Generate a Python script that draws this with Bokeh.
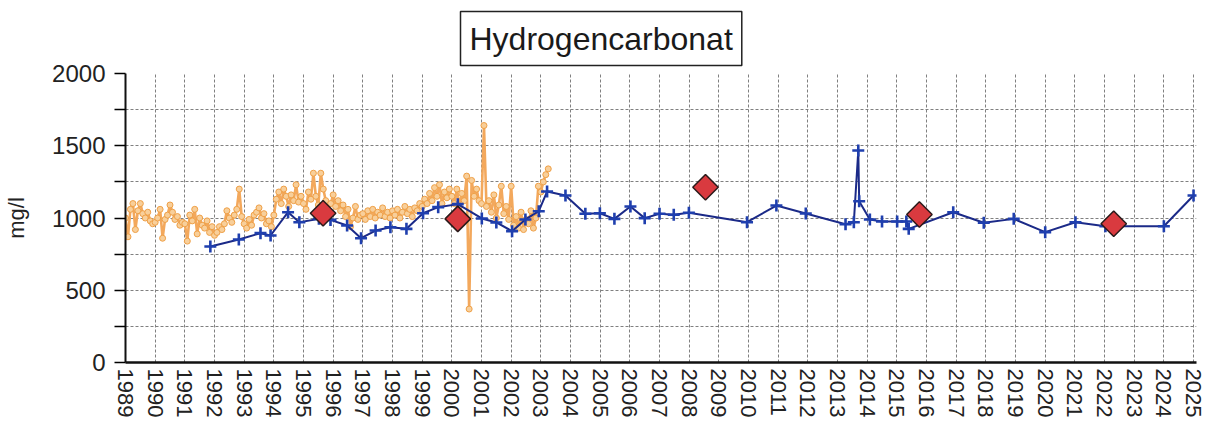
import numpy as np
from bokeh.plotting import figure
from bokeh.models import Range1d, FixedTicker, Title, ColumnDataSource
from bokeh.embed import file_html
from bokeh.resources import INLINE

# ---------------- data ----------------
years = list(range(1989, 2026))

# orange series: monthly values from Jan 1989 to Apr 2003 (estimated)
orange_start = 1989.0
orange_vals = [
    # 1989
    1000, 870, 1060, 1100, 920, 1050, 1100, 1030, 1000, 1040, 980, 960,
    # 1990
    970, 1000, 1060, 860, 990, 1020, 1090, 1040, 990, 1010, 950, 970,
    # 1991
    960, 840, 1020, 980, 1060, 890, 1000, 950, 930, 980, 900, 940,
    # 1992
    880, 900, 940, 920, 960, 1050, 1000, 970, 1020, 1060, 1200, 1010,
    # 1993
    960, 930, 990, 950, 1020, 1040, 1070, 1000, 1030, 960, 980, 940,
    # 1994
    1020, 1130, 1180, 1100, 1200, 1150, 1080, 1160, 1120, 1230, 1110, 1150,
    # 1995
    1100, 1060, 1180, 1130, 1310, 1150, 1090, 1310, 1200, 1120, 1050, 1100,
    # 1996
    1160, 1080, 1120, 1050, 1090, 1010, 1060, 940, 1000, 1080, 990, 1020,
    # 1997
    1030, 990, 1050, 1010, 1060, 1000, 1040, 1020, 1070, 1010, 1040, 1000,
    # 1998
    1050, 1020, 1060, 1000, 1040, 1080, 1030, 1060, 1010, 1070, 1050, 1100,
    # 1999
    1080, 1130, 1100, 1170, 1120, 1210, 1150, 1230, 1100, 1180, 1140, 1200,
    # 2000
    1150, 1100, 1200, 1080, 1170, 1120, 1290, 370, 1260, 1150, 1200, 1120,
    # 2001
    1100, 1640, 1080, 1120, 1040, 1160, 1000, 1090, 1220, 1030, 1080, 990,
    # 2002
    1220, 950, 1010, 930, 1040, 920, 990, 960, 1050, 930, 1000, 1220,
    # 2003
    1180, 1250, 1300, 1340,
]
orange_x = [orange_start + i / 12.0 for i in range(len(orange_vals))]

blue_x = [1991.86, 1992.82, 1993.55, 1993.89, 1994.48, 1994.86, 1995.52, 1995.91,
          1996.47, 1996.94, 1997.43, 1997.93, 1998.47, 1999.03, 1999.54, 2000.20,
          2001.01, 2001.50, 2002.03, 2002.48, 2002.93, 2003.21, 2003.83, 2004.50,
          2004.99, 2005.48, 2006.02, 2006.50, 2007.00, 2007.48, 2007.99, 2009.95,
          2010.94, 2011.93, 2013.27, 2013.55, 2013.70, 2013.73, 2014.09, 2014.50,
          2015.01, 2015.32, 2015.40, 2016.90, 2017.93, 2018.94, 2020.00, 2021.02,
          2022.03, 2024.00, 2025.00]
blue_y = [803, 851, 895, 879, 1040, 971, 994, 987,
          948, 860, 913, 936, 925, 1033, 1075, 1096,
          997, 969, 909, 990, 1047, 1183, 1156, 1029,
          1033, 994, 1080, 999, 1029, 1022, 1036, 971,
          1086, 1031, 957, 971, 1467, 1116, 990, 976,
          976, 976, 925, 1040, 967, 994, 902, 971,
          943, 943, 1156]

red_x = [1995.66, 2000.20, 2008.55, 2015.76, 2022.31]
red_y = [1033, 994, 1213, 1024, 960]

y_major = [0, 500, 1000, 1500, 2000]
y_minor = [250, 750, 1250, 1750]
title_text = "Hydrogencarbonat"
y_label = "mg/l"

# ---------------- figure ----------------
FONT = "Liberation Sans"
p = figure(width=1208, height=428, output_backend="svg", toolbar_location=None,
           x_range=Range1d(1989, 2025.1), y_range=Range1d(0, 2000),
           min_border_left=125, min_border_right=12, min_border_top=73,
           min_border_bottom=66)
p.outline_line_color = None
p.background_fill_color = "white"
p.border_fill_color = "white"

# title box
ttl = Title(text=title_text, align="left", offset=335, standoff=16,
            text_font=FONT, text_font_size="32px", text_color="#1a1a1a",
            text_font_style="normal",
            border_line_color="#222222", border_line_width=1.5,
            background_fill_color="white", padding=9)
p.add_layout(ttl, "above")

# axes
p.xaxis.ticker = FixedTicker(ticks=years)
p.xaxis.major_label_orientation = "vertical"
p.xaxis.major_tick_out = 0
p.xaxis.major_tick_in = 0
p.xaxis.minor_tick_out = 0
p.xaxis.axis_line_width = 2.5
p.xaxis.axis_line_color = "#111111"
p.xaxis.major_label_standoff = 6
p.xaxis.major_label_text_font = FONT
p.xaxis.major_label_text_font_size = "22px"
p.xaxis.major_label_text_color = "#222222"

p.yaxis.ticker = FixedTicker(ticks=y_major, minor_ticks=y_minor)
p.yaxis.major_tick_out = 11
p.yaxis.major_tick_in = 0
p.yaxis.minor_tick_out = 11
p.yaxis.minor_tick_in = 0
p.yaxis.major_tick_line_width = 1.5
p.yaxis.minor_tick_line_width = 1.5
p.yaxis.axis_line_width = 2
p.yaxis.axis_line_color = "#111111"
p.yaxis.major_label_standoff = 9
p.yaxis.major_label_text_font = FONT
p.yaxis.major_label_text_font_size = "24px"
p.yaxis.major_label_text_color = "#222222"
p.yaxis.axis_label = y_label
p.yaxis.axis_label_text_font = FONT
p.yaxis.axis_label_text_font_size = "22px"
p.yaxis.axis_label_text_font_style = "normal"
p.yaxis.axis_label_text_color = "#222222"
p.yaxis.axis_label_standoff = 20

# grid
p.xgrid.grid_line_color = "#808080"
p.xgrid.grid_line_dash = "3 2"
p.xgrid.grid_line_width = 1
p.ygrid.grid_line_color = "#808080"
p.ygrid.grid_line_dash = "3 2"
p.ygrid.grid_line_width = 1
p.ygrid.minor_grid_line_color = "#808080"
p.ygrid.minor_grid_line_dash = "3 2"
p.ygrid.minor_grid_line_width = 1

# orange series
osrc = ColumnDataSource(dict(x=orange_x, y=orange_vals))
p.line("x", "y", source=osrc, line_color="#F3A85C", line_width=2.6)
p.scatter("x", "y", source=osrc, marker="circle", size=6,
          line_color="#EFA047", fill_color="#F8CF9A", line_width=1)

# blue series
bsrc = ColumnDataSource(dict(x=blue_x, y=blue_y))
p.line("x", "y", source=bsrc, line_color="#1B2A88", line_width=2)
p.scatter("x", "y", source=bsrc, marker="cross", size=12,
          line_color="#1F3FAE", line_width=2.6)

# red diamonds (squares rotated by 45 degrees)
rsrc = ColumnDataSource(dict(x=red_x, y=red_y))
p.scatter("x", "y", source=rsrc, marker="square", size=18, angle=np.pi / 4,
          fill_color="#D93A3F", line_color="#2a1a1a", line_width=1.5)

open("out.html", "w").write(file_html(p, INLINE))
